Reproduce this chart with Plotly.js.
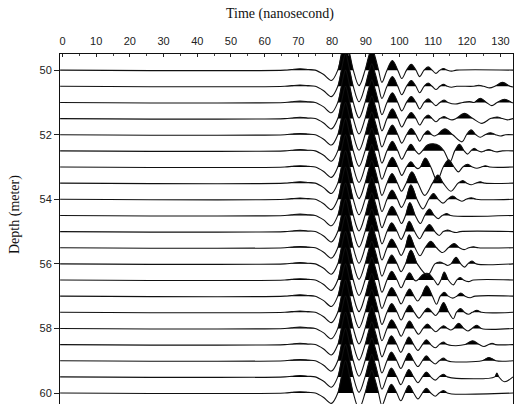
<!DOCTYPE html>
<html><head><meta charset="utf-8">
<script src="https://cdn.plot.ly/plotly-3.0.1.min.js"></script>
<style>html,body{margin:0;padding:0;background:#fff}</style>
</head><body><div id="chart" style="width:524px;height:404px"></div>
<script>
// Trace depths (meter), one wiggle trace each
const depths = [50,50.5,51,51.5,52,52.5,53,53.5,54,54.5,55,55.5,56,56.5,57,57.5,58,58.5,59,59.5,60];
const xTickVals = [0,10,20,30,40,50,60,70,80,90,100,110,120,130];
const yTickVals = [50,52,54,56,58,60];

// Direct arrival shared by all traces: knot times (ns) and amplitudes (m, + = up / filled)
const directT = [-0.7, 66.0, 68.0, 70.5, 73.0, 75.0, 77.4, 79.8, 81.7, 82.85, 84.0, 85.15, 86.3, 88.0, 89.8, 90.8, 91.8, 92.8, 93.8, 94.8];
const directA = [0, 0, 0.02, 0.04, 0.02, 0, -0.13, -0.32, 0, 0.55, 1.0, 0.55, 0, -0.48, 0, 0.4, 0.7, 0.4, 0, -0.38];

// Later arrivals, one knot list per trace (times ns)
const lateT = [
 [96.3,97.9,99.5,100.7,102.1,103.5,104.9,106.0,107.3,108.5,109.7,110.8,112.0,113.1,114.2,115.5,117.0,133.7],
 [96.3,97.9,99.5,100.7,102.1,103.5,104.9,106.0,107.3,108.5,109.7,110.8,112.0,113.1,114.2,115.5,117.0,122.0,123.5,125.0,126.8,128.3,130.6,132.8,133.7],
 [96.3,97.9,99.5,100.7,102.1,103.5,104.9,106.0,107.3,108.5,109.7,110.8,112.0,113.2,114.4,116.5,118.8,120.8,122.2,124.0,125.8,127.4,129.0,131.2,133.3,133.7],
 [96.3,97.9,99.5,100.7,102.1,103.5,104.9,106.0,107.3,108.5,109.7,110.8,112.0,113.2,114.4,115.6,116.8,119.3,121.8,124.5,127.0,129.0,130.6,132.0,133.7],
 [96.3,97.9,99.5,100.7,102.1,103.5,104.9,106.0,107.2,108.4,109.6,110.4,111.2,113.5,115.8,118.6,119.9,121.3,122.7,124.0,125.4,127.0,128.5,130.0,131.5,133.7],
 [96.3,97.9,99.5,100.7,102.1,103.4,104.8,105.8,106.8,108.3,110.0,111.8,113.2,115.0,116.4,117.8,119.2,120.2,121.2,122.2,123.3,124.3,125.3,126.5,127.7,129.0,130.5,133.7],
 [96.3,97.9,99.5,100.7,102.1,103.4,104.7,105.5,106.2,107.7,109.3,111.2,113.0,114.6,116.2,117.5,118.8,120.2,121.6,123.0,124.3,125.5,126.8,133.7],
 [96.3,97.8,99.4,100.6,102.0,103.7,105.5,107.5,109.8,111.4,113.0,115.3,117.4,118.8,120.0,121.3,122.6,124.0,125.4,133.7],
 [96.3,97.8,99.4,100.6,101.9,103.4,105.2,107.0,108.7,110.1,111.5,112.9,114.3,115.8,117.2,118.5,119.8,121.3,122.8,133.7],
 [96.3,97.8,99.4,100.6,101.8,103.1,104.7,106.2,107.5,108.9,110.3,111.5,112.7,114.0,115.2,133.7],
 [96.3,97.7,99.3,100.5,101.7,102.9,104.5,106.0,107.3,108.9,110.5,111.8,113.0,114.3,115.5,116.8,118.0,133.7],
 [96.3,97.7,99.3,100.5,101.7,102.9,104.6,106.1,107.6,109.3,111.0,112.8,114.5,116.2,117.8,119.2,120.6,122.0,123.4,133.7],
 [96.3,97.7,99.3,100.5,101.8,103.4,105.3,108.4,110.5,112.0,113.3,114.3,115.3,116.8,118.2,119.3,120.3,121.5,122.8,133.7],
 [96.3,97.7,99.3,100.5,101.7,103.0,104.4,104.9,105.4,107.2,108.6,110.3,111.4,112.3,113.3,114.5,116.0,117.0,118.0,119.0,120.5,122.0,133.7],
 [96.3,97.7,99.3,100.5,101.7,103.0,104.3,105.4,106.5,108.1,109.8,111.0,112.1,113.3,114.5,115.8,117.0,118.2,119.5,121.0,122.5,133.7],
 [96.3,97.7,99.3,100.5,101.7,103.0,104.4,105.8,107.2,108.4,109.7,110.7,111.6,113.1,114.6,116.0,116.9,118.1,119.3,120.5,121.6,123.0,124.4,133.7],
 [96.3,97.7,99.3,100.5,101.7,103.0,104.4,105.7,107.0,108.3,109.6,110.8,112.0,113.1,114.3,115.2,116.1,117.6,119.1,120.3,121.5,122.9,124.3,133.7],
 [96.3,97.6,99.2,100.4,101.6,102.8,104.2,105.5,106.8,108.0,109.3,110.6,111.8,113.0,114.2,115.5,119.5,121.7,123.7,125.1,126.5,127.5,128.5,133.7],
 [96.3,97.6,99.2,100.4,101.6,102.8,104.2,105.5,106.8,108.0,109.3,110.6,111.8,113.0,114.2,115.5,124.5,126.6,128.6,133.7],
 [96.3,97.6,99.2,100.4,101.6,102.8,104.2,105.5,106.8,108.0,109.3,110.6,111.8,113.0,114.2,115.5,128.3,128.9,129.5,131.2,133.7],
 [96.3,97.6,99.2,100.4,101.6,102.8,104.2,105.5,106.8,108.0,109.3,110.6,111.8,113.0,114.2,115.5,133.7]
];
// Later arrivals, amplitudes (m)
const lateA = [
 [0,0.30,0,-0.26,0,0.18,0,-0.20,0,0.10,0,-0.10,0,0.05,0,-0.03,0,0],
 [0,0.30,0,-0.26,0,0.18,0,-0.20,0,0.10,0,-0.10,0,0.06,0,-0.03,0,0,0.03,0,-0.05,0,0.12,0,-0.02],
 [0,0.30,0,-0.26,0,0.18,0,-0.20,0,0.11,0,-0.10,0,0.07,0,-0.05,0,0.03,0,0.13,0,-0.10,0,0.10,0,-0.01],
 [0,0.30,0,-0.26,0,0.19,0,-0.20,0,0.11,0,-0.10,0,0.06,0,-0.04,0,0.16,0,-0.15,0,0.05,0,-0.04,0],
 [0,0.30,0,-0.26,0,0.19,0,-0.20,0,0.12,0,-0.04,0,0.18,0,-0.22,0,0.15,0,-0.08,0,0.06,0,-0.04,0,0],
 [0,0.30,0,-0.26,0,0.20,0,-0.10,0,0.18,0.22,0.16,0,-0.34,0,0.20,0,-0.10,0,0.08,0,-0.03,0,0.04,0,-0.03,0,0],
 [0,0.30,0,-0.26,0,0.16,0,-0.05,0,0.28,0,-0.42,0,0.22,0,-0.15,0,0.08,0,-0.04,0,0.04,0,0],
 [0,0.30,0,-0.25,0,0.35,0,-0.38,0,0.25,0,-0.25,0,0.08,0,-0.05,0,0.04,0,0],
 [0,0.29,0,-0.25,0,0.45,0,-0.30,0,0.18,0,-0.12,0,0.10,0,-0.06,0,0.05,0,0],
 [0,0.28,0,-0.25,0,0.40,0,-0.25,0,0.20,0,-0.10,0,0.06,0,0],
 [0,0.27,0,-0.24,0,0.32,0,-0.22,0,0.22,0,-0.12,0,0.05,0,-0.03,0,0],
 [0,0.27,0,-0.24,0,0.40,0,-0.25,0,0.20,0,-0.15,0,0.13,0,-0.06,0,0.03,0,0],
 [0,0.27,0,-0.24,0,0.43,0,-0.35,0,0.06,0,-0.05,0,0.20,0,-0.10,0,0.09,0,0],
 [0,0.27,0,-0.24,0,0.22,0,-0.03,0,0.19,0.20,0,-0.15,0,0.25,0,-0.15,0,0.08,0,-0.05,0,0],
 [0,0.27,0,-0.24,0,0.22,0,-0.15,0,0.32,0,-0.25,0,0.12,0,-0.06,0,0.10,0,-0.05,0,0],
 [0,0.27,0,-0.24,0,0.22,0,-0.18,0,0.13,0,-0.10,0,0.30,0,-0.20,0,0.12,0,-0.06,0,0.06,0,0],
 [0,0.27,0,-0.24,0,0.23,0,-0.18,0,0.14,0,-0.10,0,0.08,0,-0.05,0,0.16,0,-0.08,0,0.10,0,0],
 [0,0.27,0,-0.24,0,0.23,0,-0.18,0,0.15,0,-0.10,0,0.08,0,-0.03,0,0.12,0,-0.06,0,0.04,0,0],
 [0,0.27,0,-0.24,0,0.23,0,-0.18,0,0.15,0,-0.10,0,0.08,0,-0.03,0,0.10,0,0],
 [0,0.27,0,-0.24,0,0.23,0,-0.18,0,0.15,0,-0.10,0,0.08,0,-0.03,0,0.12,0,-0.15,0],
 [0,0.27,0,-0.24,0,0.23,0,-0.18,0,0.15,0,-0.10,0,0.08,0,-0.03,0]
];

const fillTraces = [], lineTraces = [];
depths.forEach((d, i) => {
  const T = directT.concat(lateT[i]);
  const A = directA.concat(lateA[i]);
  const fx = [], fy = [];
  let k = 0;
  while (k < A.length) {
    if (A[k] > 0) {
      let e = k;
      while (e < A.length && A[e] > 0) e++;
      const s = Math.max(k - 1, 0), stop = Math.min(e, A.length - 1);
      for (let j = s; j <= stop; j++) { fx.push(T[j]); fy.push(d - Math.max(A[j], 0)); }
      fx.push(null); fy.push(null);
      k = e;
    } else k++;
  }
  fillTraces.push({type:'scatter', mode:'lines', x:fx, y:fy, fill:'toself', fillcolor:'#000',
    line:{width:0, shape:'spline', color:'#000'}, connectgaps:false, hoverinfo:'skip', showlegend:false});
  lineTraces.push({type:'scatter', mode:'lines', x:T, y:A.map(a => d - a),
    line:{width:1.1, color:'#111', shape:'spline'}, hoverinfo:'skip', showlegend:false});
});

const layout = {
  width:524, height:404,
  margin:{l:60, r:11, t:54, b:0, pad:0},
  paper_bgcolor:'#fff', plot_bgcolor:'#fff',
  showlegend:false,
  font:{family:'Liberation Sans, Arial, sans-serif', color:'#111'},
  xaxis:{side:'top', range:[-0.74, 133.7], tickvals:xTickVals, ticktext:xTickVals.map(String),
    ticks:'inside', ticklen:3, tickcolor:'#222', tickwidth:1,
    minor:{tickvals:[5,15,25,35,45,55,65,75,85,95,105,115,125], ticks:'inside', ticklen:2, tickcolor:'#444'},
    ticklabelstandoff:4,
    showline:true, linecolor:'#111', linewidth:1, mirror:false, showgrid:false, zeroline:false,
    tickfont:{size:11, family:'Liberation Sans, Arial, sans-serif', color:'#222'}},
  yaxis:{range:[60.34, 49.5], tickvals:yTickVals, ticktext:yTickVals.map(String),
    ticks:'outside', ticklen:5, tickcolor:'#222', tickwidth:1,
    showline:true, linecolor:'#111', linewidth:1, mirror:true, showgrid:false, zeroline:false,
    tickfont:{size:11, family:'Liberation Sans, Arial, sans-serif', color:'#222'}},
  annotations:[
    {text:'Time (nanosecond)', xref:'paper', yref:'paper', x:(280-60)/453, y:(404-14)/350,
     xanchor:'center', yanchor:'middle', showarrow:false,
     font:{family:'Liberation Serif, Times New Roman, serif', size:14, color:'#111'}},
    {text:'Depth (meter)', xref:'paper', yref:'paper', x:(15-60)/453, y:(404-215)/350,
     xanchor:'center', yanchor:'middle', showarrow:false, textangle:-90,
     font:{family:'Liberation Serif, Times New Roman, serif', size:14, color:'#111'}}
  ]
};
Plotly.newPlot('chart', fillTraces.concat(lineTraces), layout, {staticPlot:true, displayModeBar:false});
</script>
</body></html>
